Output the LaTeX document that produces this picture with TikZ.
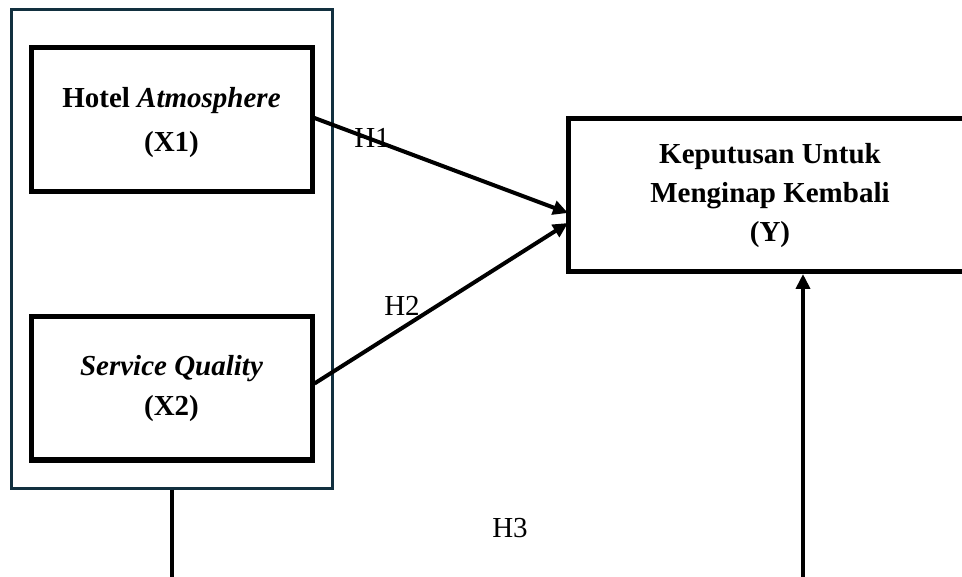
\documentclass[tikz,border=0pt]{standalone}
\usepackage{fontspec}
\setmainfont{Liberation Serif}
\usetikzlibrary{arrows.meta,calc}
\definecolor{navy}{HTML}{12303F}
\begin{document}
\begin{tikzpicture}[x=1pt,y=-1pt,
  varbox/.style={draw=black,line width=5pt,rectangle,inner sep=0pt,align=center,font=\fontsize{29}{40}\selectfont\bfseries},
  vartext/.style={inner sep=0pt,align=center},
  hlabel/.style={inner sep=0pt,font=\fontsize{29}{34}\selectfont},
  conn/.style={line width=4pt,-{Triangle[length=15pt,width=14pt]}},
  plain/.style={line width=4pt}]
\useasboundingbox (0,0) rectangle (962,577);
\fill[white] (0,0) rectangle (962,577);
\node[draw=navy,line width=3pt,minimum width=321pt,minimum height=478pt,inner sep=0pt] (outer) at (171.5,249) {};
\node[varbox,minimum width=281pt,minimum height=144pt] (x1) at (171.5,120) {};
\node[vartext,font=\fontsize{29}{44}\selectfont\bfseries] (x1t) at ($(x1.center)+(0,3)$) {Hotel \textit{Atmosphere}\\(X1)};
\node[varbox,minimum width=281pt,minimum height=143pt] (x2) at (171.5,388.5) {\textit{Service Quality}\\(X2)};
\node[varbox,minimum width=404pt,minimum height=153pt,font=\fontsize{29}{39}\selectfont\bfseries] (y) at (770,195.5) {Keputusan Untuk\\Menginap Kembali\\(Y)};
\coordinate (yin1) at (568,213);
\coordinate (yin2) at (568,223);
\coordinate (yin3) at (803,274);
\coordinate (bl) at (171.5,590);
\coordinate (br) at (803,590);
\draw[conn] ($(x1.east)+(0,-2)$) -- (yin1);
\draw[conn] ($(x2.east)+(0,-5)$) -- (yin2);
\draw[plain] (outer.south) -- (bl);
\draw[conn] (br) -- (yin3);
\node[hlabel] (h1) at (372,138) {H1};
\node[hlabel] (h2) at (402,306) {H2};
\node[hlabel] (h3) at (510,528) {H3};
\end{tikzpicture}
\end{document}
